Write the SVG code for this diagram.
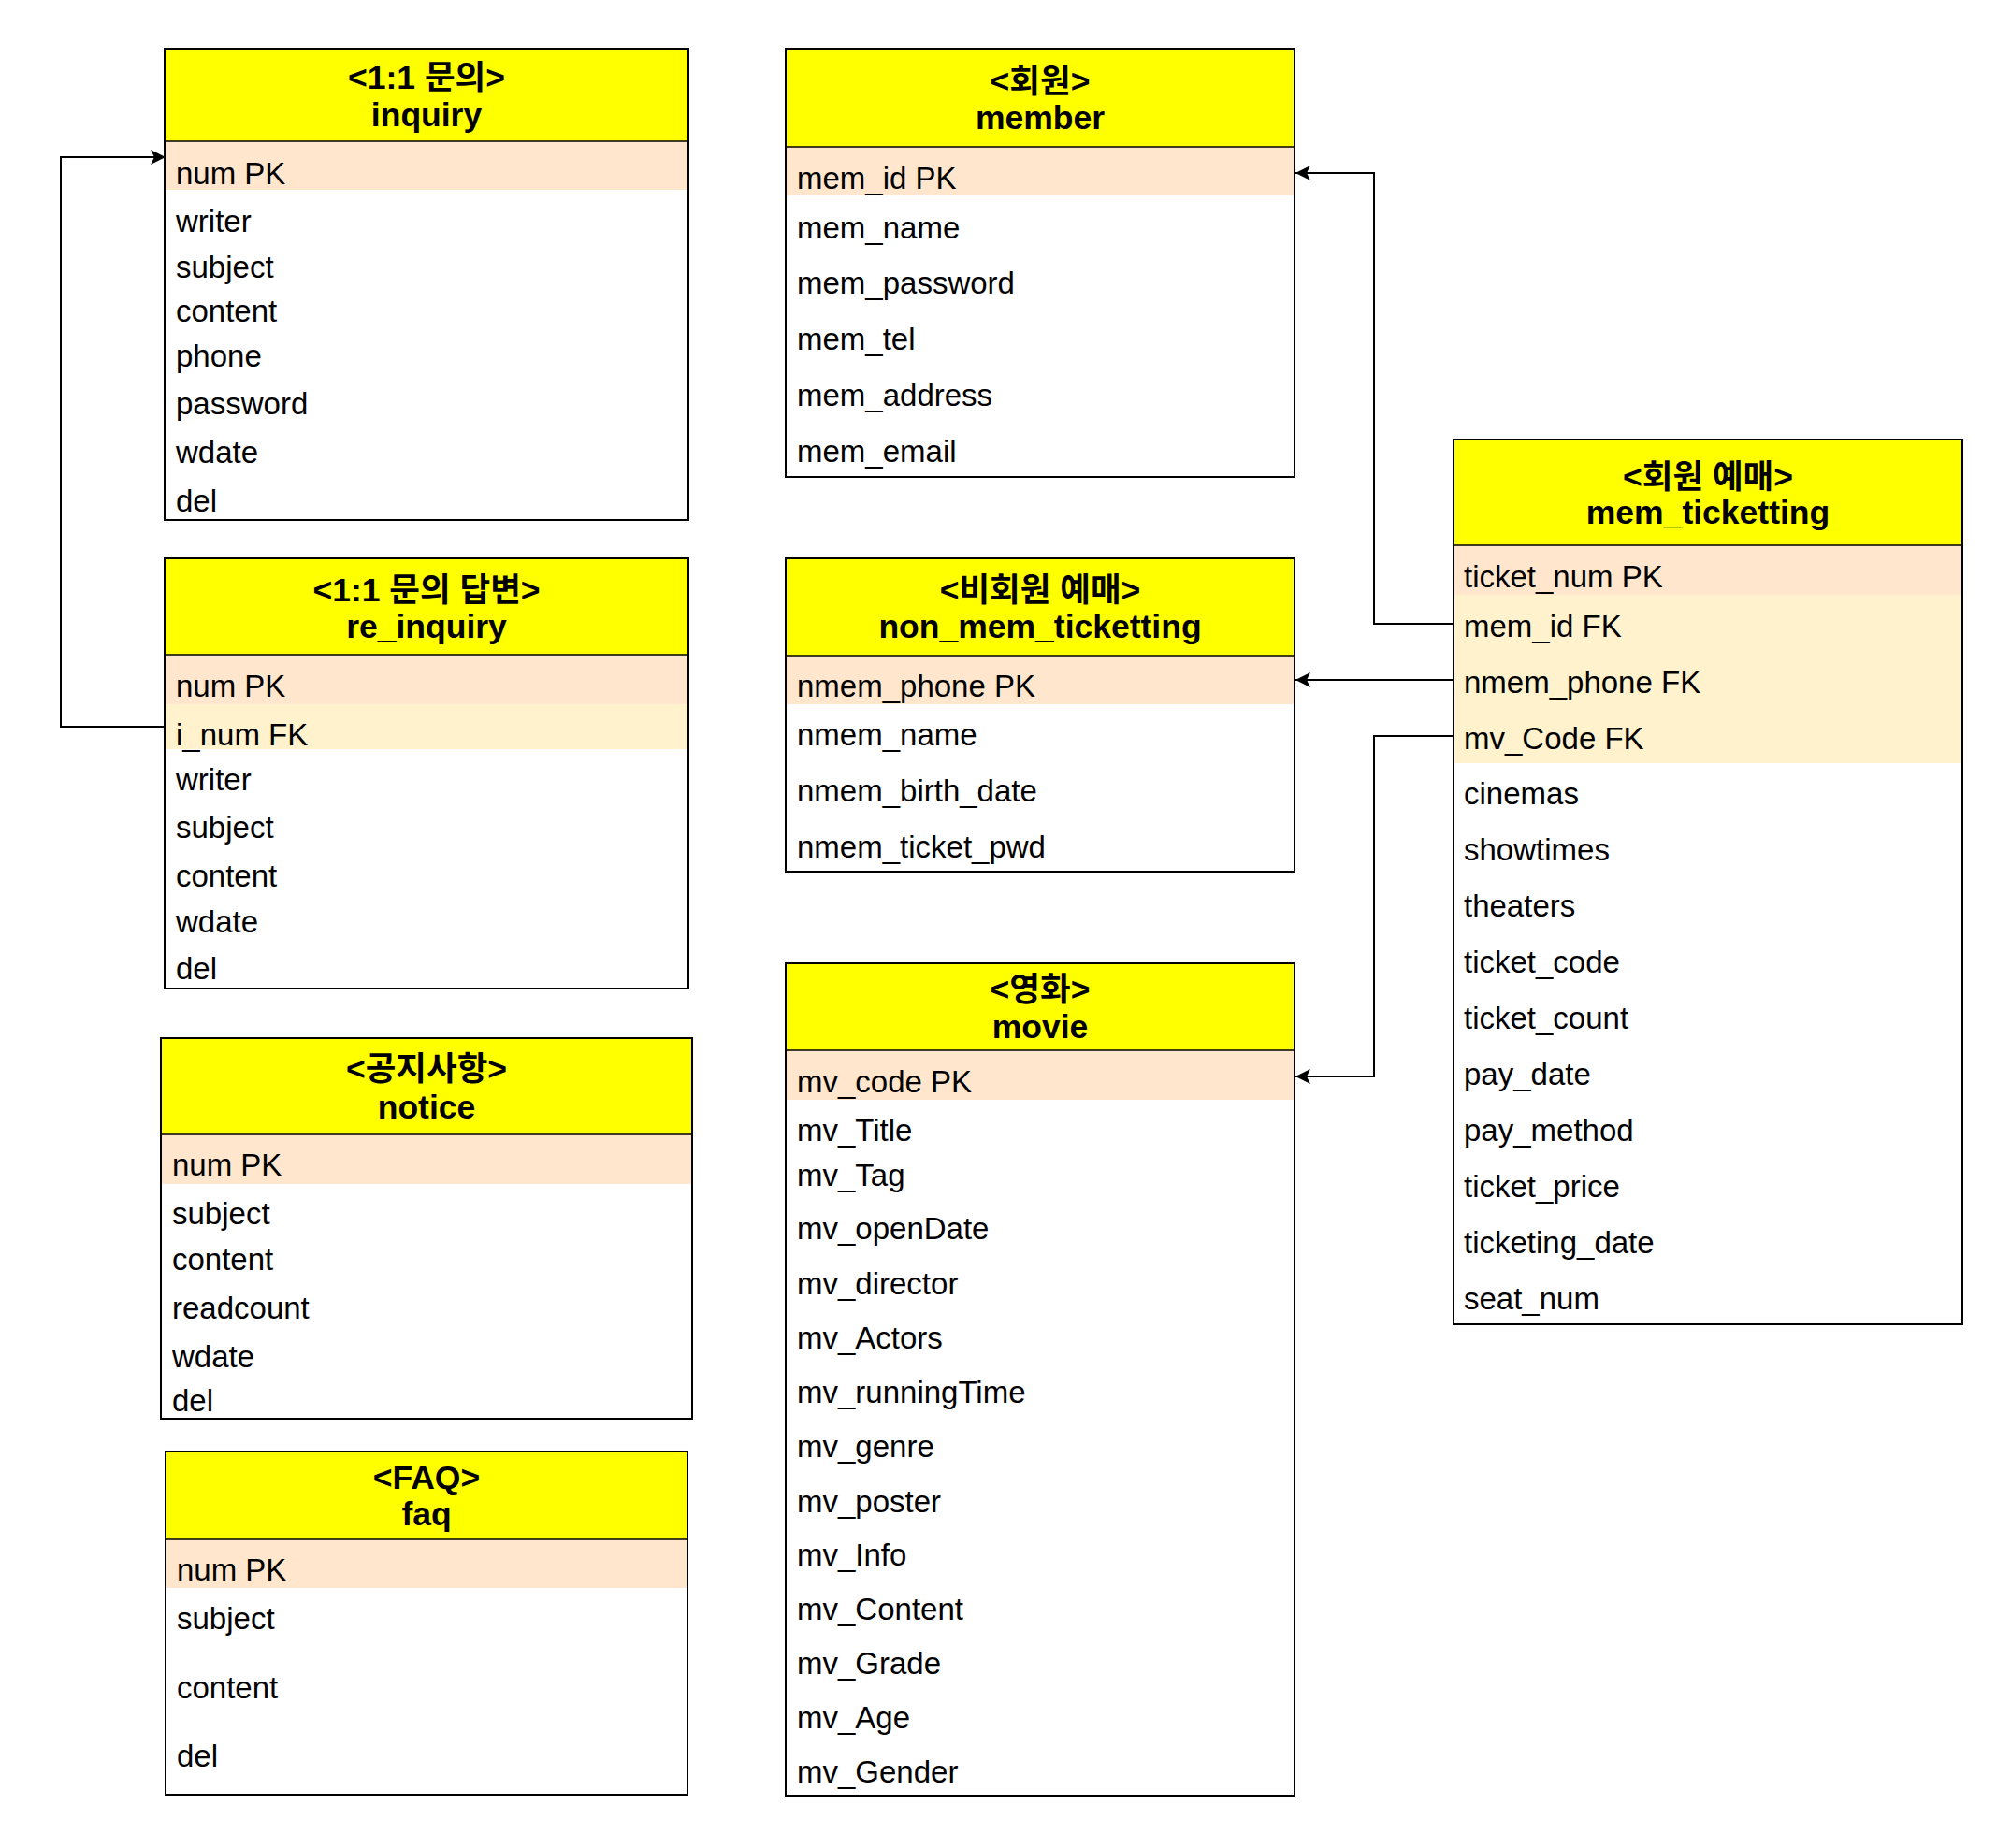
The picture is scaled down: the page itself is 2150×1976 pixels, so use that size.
<svg xmlns="http://www.w3.org/2000/svg" width="2150" height="1976" viewBox="0 0 2150 1976">
<style>
.bg{fill:#ffffff}
.hdr{fill:#ffff00}
.pk{fill:#ffe6cc}
.fk{fill:#fff2cc}
.box{fill:none;stroke:#000;stroke-width:2}
.sep{stroke:#000;stroke-width:1.5}
.t{font-family:"Liberation Sans","Noto Sans CJK KR",sans-serif;font-size:33px;fill:#000}
.h{font-family:"Liberation Sans","Noto Sans CJK KR",sans-serif;font-size:35.5px;font-weight:bold;text-anchor:middle;fill:#000}
.c{fill:none;stroke:#000;stroke-width:2}
</style>
<defs>
<marker id="arr" markerUnits="userSpaceOnUse" markerWidth="18" markerHeight="16" refX="16" refY="8" orient="auto">
<path d="M0,0 L16,8 L0,16 L4,8 z" fill="#000"/>
</marker>
</defs>
<rect x="0" y="0" width="2150" height="1976" fill="#ffffff"/>

<g id="connectors">
<path class="c" d="M176,777 H65 V168 H177" marker-end="url(#arr)"/>
<path class="c" d="M1554,667 H1469 V185 H1385" marker-end="url(#arr)"/>
<path class="c" d="M1554,727 H1385" marker-end="url(#arr)"/>
<path class="c" d="M1554,787 H1469 V1151 H1385" marker-end="url(#arr)"/>
</g>

<g id="inquiry">
<rect class="bg" x="176" y="52" width="560" height="504"/>
<rect class="hdr" x="176" y="52" width="560" height="99"/>
<rect class="pk" x="176" y="151" width="560" height="52"/>
<line class="sep" x1="176" y1="151" x2="736" y2="151"/>
<rect class="box" x="176" y="52" width="560" height="504"/>
<text class="h" x="456" y="95">&lt;1:1 문의&gt;</text>
<text class="h" x="456" y="135">inquiry</text>
<text class="t" x="188" y="197">num PK</text>
<text class="t" x="188" y="248">writer</text>
<text class="t" x="188" y="297">subject</text>
<text class="t" x="188" y="344">content</text>
<text class="t" x="188" y="392">phone</text>
<text class="t" x="188" y="443">password</text>
<text class="t" x="188" y="495">wdate</text>
<text class="t" x="188" y="547">del</text>
</g>

<g id="re_inquiry">
<rect class="bg" x="176" y="597" width="560" height="460"/>
<rect class="hdr" x="176" y="597" width="560" height="103"/>
<rect class="pk" x="176" y="700" width="560" height="53"/>
<rect class="fk" x="176" y="753" width="560" height="48"/>
<line class="sep" x1="176" y1="700" x2="736" y2="700"/>
<rect class="box" x="176" y="597" width="560" height="460"/>
<text class="h" x="456" y="643">&lt;1:1 문의 답변&gt;</text>
<text class="h" x="456" y="682">re_inquiry</text>
<text class="t" x="188" y="745">num PK</text>
<text class="t" x="188" y="797">i_num FK</text>
<text class="t" x="188" y="845">writer</text>
<text class="t" x="188" y="896">subject</text>
<text class="t" x="188" y="948">content</text>
<text class="t" x="188" y="997">wdate</text>
<text class="t" x="188" y="1047">del</text>
</g>

<g id="notice">
<rect class="bg" x="172" y="1110" width="568" height="407"/>
<rect class="hdr" x="172" y="1110" width="568" height="103"/>
<rect class="pk" x="172" y="1213" width="568" height="53"/>
<line class="sep" x1="172" y1="1213" x2="740" y2="1213"/>
<rect class="box" x="172" y="1110" width="568" height="407"/>
<text class="h" x="456" y="1155">&lt;공지사항&gt;</text>
<text class="h" x="456" y="1196">notice</text>
<text class="t" x="184" y="1257">num PK</text>
<text class="t" x="184" y="1309">subject</text>
<text class="t" x="184" y="1358">content</text>
<text class="t" x="184" y="1410">readcount</text>
<text class="t" x="184" y="1462">wdate</text>
<text class="t" x="184" y="1509">del</text>
</g>

<g id="faq">
<rect class="bg" x="177" y="1552" width="558" height="367"/>
<rect class="hdr" x="177" y="1552" width="558" height="94"/>
<rect class="pk" x="177" y="1646" width="558" height="52"/>
<line class="sep" x1="177" y1="1646" x2="735" y2="1646"/>
<rect class="box" x="177" y="1552" width="558" height="367"/>
<text class="h" x="456" y="1592">&lt;FAQ&gt;</text>
<text class="h" x="456" y="1631">faq</text>
<text class="t" x="189" y="1690">num PK</text>
<text class="t" x="189" y="1742">subject</text>
<text class="t" x="189" y="1816">content</text>
<text class="t" x="189" y="1889">del</text>
</g>

<g id="member">
<rect class="bg" x="840" y="52" width="544" height="458"/>
<rect class="hdr" x="840" y="52" width="544" height="105"/>
<rect class="pk" x="840" y="157" width="544" height="52"/>
<line class="sep" x1="840" y1="157" x2="1384" y2="157"/>
<rect class="box" x="840" y="52" width="544" height="458"/>
<text class="h" x="1112" y="99">&lt;회원&gt;</text>
<text class="h" x="1112" y="138">member</text>
<text class="t" x="852" y="202">mem_id PK</text>
<text class="t" x="852" y="255">mem_name</text>
<text class="t" x="852" y="314">mem_password</text>
<text class="t" x="852" y="374">mem_tel</text>
<text class="t" x="852" y="434">mem_address</text>
<text class="t" x="852" y="494">mem_email</text>
</g>

<g id="non_mem_ticketting">
<rect class="bg" x="840" y="597" width="544" height="335"/>
<rect class="hdr" x="840" y="597" width="544" height="104"/>
<rect class="pk" x="840" y="701" width="544" height="52"/>
<line class="sep" x1="840" y1="701" x2="1384" y2="701"/>
<rect class="box" x="840" y="597" width="544" height="335"/>
<text class="h" x="1112" y="643">&lt;비회원 예매&gt;</text>
<text class="h" x="1112" y="682">non_mem_ticketting</text>
<text class="t" x="852" y="745">nmem_phone PK</text>
<text class="t" x="852" y="797">nmem_name</text>
<text class="t" x="852" y="857">nmem_birth_date</text>
<text class="t" x="852" y="917">nmem_ticket_pwd</text>
</g>

<g id="movie">
<rect class="bg" x="840" y="1030" width="544" height="890"/>
<rect class="hdr" x="840" y="1030" width="544" height="93"/>
<rect class="pk" x="840" y="1123" width="544" height="53"/>
<line class="sep" x1="840" y1="1123" x2="1384" y2="1123"/>
<rect class="box" x="840" y="1030" width="544" height="890"/>
<text class="h" x="1112" y="1070">&lt;영화&gt;</text>
<text class="h" x="1112" y="1110">movie</text>
<text class="t" x="852" y="1168">mv_code PK</text>
<text class="t" x="852" y="1220">mv_Title</text>
<text class="t" x="852" y="1268">mv_Tag</text>
<text class="t" x="852" y="1325">mv_openDate</text>
<text class="t" x="852" y="1384">mv_director</text>
<text class="t" x="852" y="1442">mv_Actors</text>
<text class="t" x="852" y="1500">mv_runningTime</text>
<text class="t" x="852" y="1558">mv_genre</text>
<text class="t" x="852" y="1617">mv_poster</text>
<text class="t" x="852" y="1674">mv_Info</text>
<text class="t" x="852" y="1732">mv_Content</text>
<text class="t" x="852" y="1790">mv_Grade</text>
<text class="t" x="852" y="1848">mv_Age</text>
<text class="t" x="852" y="1906">mv_Gender</text>
</g>

<g id="mem_ticketting">
<rect class="bg" x="1554" y="470" width="544" height="946"/>
<rect class="hdr" x="1554" y="470" width="544" height="113"/>
<rect class="pk" x="1554" y="583" width="544" height="53"/>
<rect class="fk" x="1554" y="636" width="544" height="180"/>
<line class="sep" x1="1554" y1="583" x2="2098" y2="583"/>
<rect class="box" x="1554" y="470" width="544" height="946"/>
<text class="h" x="1826" y="522">&lt;회원 예매&gt;</text>
<text class="h" x="1826" y="560">mem_ticketting</text>
<text class="t" x="1565" y="628">ticket_num PK</text>
<text class="t" x="1565" y="681">mem_id FK</text>
<text class="t" x="1565" y="741">nmem_phone FK</text>
<text class="t" x="1565" y="801">mv_Code FK</text>
<text class="t" x="1565" y="860">cinemas</text>
<text class="t" x="1565" y="920">showtimes</text>
<text class="t" x="1565" y="980">theaters</text>
<text class="t" x="1565" y="1040">ticket_code</text>
<text class="t" x="1565" y="1100">ticket_count</text>
<text class="t" x="1565" y="1160">pay_date</text>
<text class="t" x="1565" y="1220">pay_method</text>
<text class="t" x="1565" y="1280">ticket_price</text>
<text class="t" x="1565" y="1340">ticketing_date</text>
<text class="t" x="1565" y="1400">seat_num</text>
</g>
</svg>
